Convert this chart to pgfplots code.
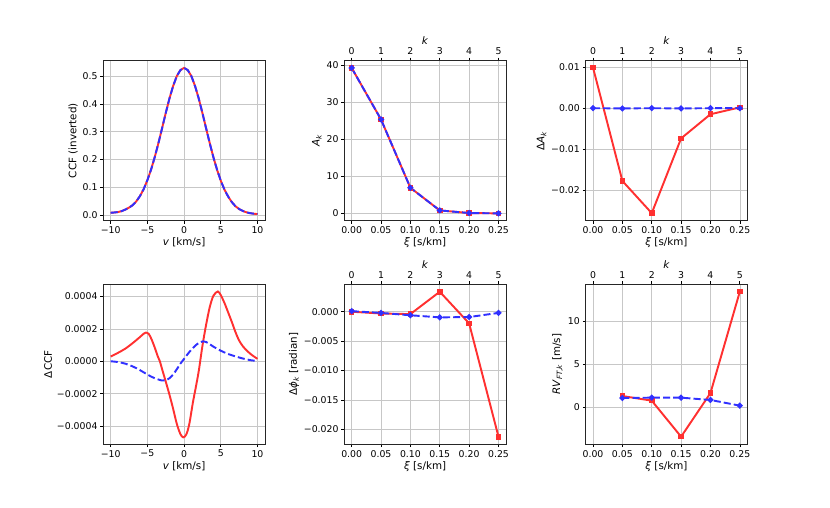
\documentclass[border=0pt]{standalone}
\usepackage{fontspec}
\setmainfont{DejaVu Sans}
\usepackage{pgfplots}
\pgfplotsset{compat=1.18}
\definecolor{mred}{RGB}{255,48,48}
\definecolor{mblue}{RGB}{48,48,255}
\pgfplotsset{
  every axis/.append style={font=\fontsize{11.2}{13.5}\selectfont},
  every axis label/.append style={font=\fontsize{12.4}{15}\selectfont},
  base/.style={scale only axis, width=193.8pt, height=192pt, anchor=south west,
    scaled x ticks=false, scaled y ticks=false,
    grid=major, grid style={line width=0.8pt, color=black!22},
    axis line style={line width=0.8pt, black!85},
    tick style={line width=0.8pt, black}, tick align=outside, major tick length=3.5pt,
    xtick pos=bottom, ytick pos=left,
    xlabel style={yshift=2pt}, ylabel style={yshift=-1pt}},
  kxi/.style={xmin=-0.0125, xmax=0.2625, xtick={0,0.05,0.1,0.15,0.2,0.25},
    xticklabels={0.00,0.05,0.10,0.15,0.20,0.25}, xlabel={\textit{ξ} [s/km]}},
  topk/.style={scale only axis, width=193.8pt, height=192pt, anchor=south west,
    scaled x ticks=false, scaled y ticks=false,
    xmin=-0.25, xmax=5.25, ymin=0, ymax=1, axis x line*=top, axis y line=none,
    axis line style={line width=0.8pt, black!85},
    tick style={line width=0.8pt, black}, tick align=outside, major tick length=3.5pt,
    xtick={0,1,2,3,4,5}, xticklabels={0,1,2,3,4,5}, xlabel={\textit{k}}, xlabel style={yshift=-3pt}},
  rl/.style={mred, solid, line width=2.3pt},
  bl/.style={mblue, line width=2.3pt, dash pattern=on 8.5pt off 3.7pt},
  rm/.style={rl, mark=square*, mark size=2.2pt, mark options={solid}},
  bm/.style={bl, mark=*, mark size=2.3pt, mark options={solid}},
}
\begin{document}
\begin{tikzpicture}
\path[use as bounding box] (0,0) rectangle (996pt,609.6pt);
% Panel 1
\begin{axis}[base, at={(124pt,344.8pt)}, xmin=-11, xmax=11, ymin=-0.021, ymax=0.556,
  xtick={-10,-5,0,5,10}, xticklabels={−10,−5,0,5,10},
  ytick={0,0.1,0.2,0.3,0.4,0.5}, yticklabels={0.0,0.1,0.2,0.3,0.4,0.5},
  xlabel={\textit{v} [km/s]}, ylabel={CCF (inverted)}]
\addplot[rl] coordinates {(-10,0.0075)(-9.5,0.0085)(-9,0.010)(-8.5,0.0135)(-8,0.019)(-7.5,0.026)(-7,0.035)(-6.5,0.049)(-6,0.068)(-5.5,0.093)(-5,0.125)(-4.5,0.163)(-4,0.208)(-3.5,0.258)(-3,0.312)(-2.5,0.367)(-2,0.419)(-1.5,0.464)(-1,0.500)(-0.5,0.522)(0,0.530)(0.5,0.522)(1,0.500)(1.5,0.464)(2,0.419)(2.5,0.367)(3,0.312)(3.5,0.258)(4,0.207)(4.5,0.162)(5,0.123)(5.5,0.091)(6,0.066)(6.5,0.046)(7,0.031)(7.5,0.021)(8,0.014)(8.5,0.009)(9,0.006)(9.5,0.004)(10,0.0028)};
\addplot[bl] coordinates {(-10,0.0075)(-9.5,0.0085)(-9,0.010)(-8.5,0.0135)(-8,0.019)(-7.5,0.026)(-7,0.035)(-6.5,0.049)(-6,0.068)(-5.5,0.093)(-5,0.125)(-4.5,0.163)(-4,0.208)(-3.5,0.258)(-3,0.312)(-2.5,0.367)(-2,0.419)(-1.5,0.464)(-1,0.500)(-0.5,0.522)(0,0.530)(0.5,0.522)(1,0.500)(1.5,0.464)(2,0.419)(2.5,0.367)(3,0.312)(3.5,0.258)(4,0.207)(4.5,0.162)(5,0.123)(5.5,0.091)(6,0.066)(6.5,0.046)(7,0.031)(7.5,0.021)(8,0.014)(8.5,0.009)(9,0.006)(9.5,0.004)(10,0.0028)};
\end{axis}
% Panel 2
\begin{axis}[base, kxi, at={(413.2pt,344.8pt)}, ymin=-1.96, ymax=41.16,
  ytick={0,10,20,30,40}, yticklabels={0,10,20,30,40}, ylabel={\textit{A}\textsubscript{\textit{k}}}]
\addplot[rm] coordinates {(0,39.2)(0.05,25.3)(0.1,6.9)(0.15,0.8)(0.2,0.1)(0.25,0.0)};
\addplot[bm] coordinates {(0,39.2)(0.05,25.3)(0.1,6.9)(0.15,0.8)(0.2,0.1)(0.25,0.0)};
\end{axis}
\begin{axis}[topk, at={(413.2pt,344.8pt)}]
\end{axis}
% Panel 3
\begin{axis}[base, kxi, at={(702.8pt,344.8pt)}, ymin=-0.02737, ymax=0.01157,
  ytick={-0.02,-0.01,0,0.01}, yticklabels={−0.02,−0.01,0.00,0.01},
  ylabel={Δ\textit{A}\textsubscript{\textit{k}}}]
\addplot[rm] coordinates {(0,0.0099)(0.05,-0.0177)(0.1,-0.02555)(0.15,-0.00735)(0.2,-0.00147)(0.25,0.0002)};
\addplot[bm] coordinates {(0,0.0)(0.05,-0.00005)(0.1,0.0)(0.15,-0.00005)(0.2,0.0)(0.25,0.0)};
\end{axis}
\begin{axis}[topk, at={(702.8pt,344.8pt)}]
\end{axis}
% Panel 4
\begin{axis}[base, at={(124pt,76.4pt)}, xmin=-11, xmax=11, ymin=-0.000513, ymax=0.000475,
  xtick={-10,-5,0,5,10}, xticklabels={−10,−5,0,5,10},
  ytick={-0.0004,-0.0002,0,0.0002,0.0004}, yticklabels={−0.0004,−0.0002,0.0000,0.0002,0.0004},
  xlabel={\textit{v} [km/s]}, ylabel={ΔCCF}]
\addplot[rl, smooth] coordinates {(-10,0.000029)(-9,0.000052)(-8,0.000078)(-7,0.000112)(-6,0.000150)(-5.5,0.000170)(-5.2,0.000177)(-4.8,0.000168)(-4.4,0.000132)(-4,0.000085)(-3.6,0.000032)(-3.3,0.000000)(-3,-0.000048)(-2.5,-0.000125)(-2,-0.000205)(-1.5,-0.000292)(-1,-0.000385)(-0.5,-0.000450)(-0.1,-0.000470)(0.3,-0.000452)(0.7,-0.000390)(1.2,-0.000255)(1.6,-0.000160)(2,-0.000060)(2.5,0.000095)(3,0.000225)(3.5,0.000335)(4,0.000405)(4.6,0.000431)(5,0.000408)(5.5,0.000360)(6,0.000302)(6.5,0.000243)(7,0.000180)(7.5,0.000128)(8,0.000093)(8.5,0.000068)(9,0.000047)(9.5,0.000030)(10,0.000015)};
\addplot[bl, smooth] coordinates {(-10,0.0)(-9,-0.000005)(-8,-0.000015)(-7,-0.000032)(-6,-0.000055)(-5,-0.000082)(-4,-0.000105)(-3,-0.000119)(-2.5,-0.000117)(-2,-0.000105)(-1.5,-0.000082)(-1,-0.000050)(-0.5,-0.000015)(0,0.000015)(0.5,0.000045)(1,0.000072)(1.5,0.000095)(2,0.000113)(2.6,0.000123)(3,0.000119)(3.5,0.000105)(4,0.000090)(5,0.000065)(6,0.000045)(7,0.000030)(8,0.000017)(9,0.000007)(10,0.000001)};
\end{axis}
% Panel 5
\begin{axis}[base, kxi, at={(413.2pt,76.4pt)}, ymin=-0.02254, ymax=0.00466,
  ytick={-0.02,-0.015,-0.01,-0.005,0}, yticklabels={−0.020,−0.015,−0.010,−0.005,0.000},
  ylabel={Δ\textit{ϕ}\textsubscript{\textit{k}} [radian]}]
\addplot[rm] coordinates {(0,0.0)(0.05,-0.0003)(0.1,-0.0004)(0.15,0.0034)(0.2,-0.00198)(0.25,-0.02125)};
\addplot[bm] coordinates {(0,0.0001)(0.05,-0.0002)(0.1,-0.0006)(0.15,-0.00096)(0.2,-0.0009)(0.25,-0.0002)};
\end{axis}
\begin{axis}[topk, at={(413.2pt,76.4pt)}]
\end{axis}
% Panel 6
\begin{axis}[base, kxi, at={(702.8pt,76.4pt)}, ymin=-4.35, ymax=14.3,
  ytick={0,5,10}, yticklabels={0,5,10}, ylabel={\textit{RV}\textsubscript{\textit{FT},\textit{k}} [m/s]}]
\addplot[rm] coordinates {(0.05,1.28)(0.1,0.74)(0.15,-3.46)(0.2,1.63)(0.25,13.45)};
\addplot[bm] coordinates {(0.05,1.05)(0.1,1.09)(0.15,1.09)(0.2,0.82)(0.25,0.16)};
\end{axis}
\begin{axis}[topk, at={(702.8pt,76.4pt)}]
\end{axis}
\end{tikzpicture}
\end{document}
